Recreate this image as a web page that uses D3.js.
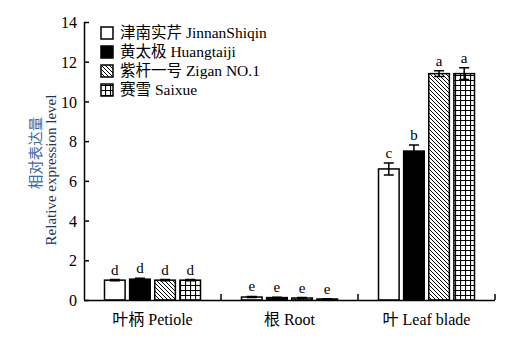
<!DOCTYPE html>
<html><head><meta charset="utf-8">
<script src="https://cdn.jsdelivr.net/npm/d3@7"></script>
<style>body{margin:0;background:#fff} svg text{font-family:"Liberation Serif","Noto Sans CJK SC",serif}</style></head>
<body><svg id="c" width="521" height="343"></svg>
<script>
const categories = ["叶柄 Petiole", "根 Root", "叶 Leaf blade"];
const series = ["津南实芹 JinnanShiqin", "黄太极 Huangtaiji", "紫杆一号 Zigan NO.1", "赛雪 Saixue"];
const values = [[1.0, 0.15, 6.6], [1.05, 0.12, 7.5], [1.0, 0.1, 11.4], [1.0, 0.05, 11.4]];
const errors = [[0.03, 0.03, 0.3], [0.05, 0.02, 0.3], [0.03, 0.02, 0.15], [0.03, 0.01, 0.3]];
const letters = [["d", "e", "c"], ["d", "e", "b"], ["d", "e", "a"], ["d", "e", "a"]];
const yTicks = [0, 2, 4, 6, 8, 10, 12, 14];

const svg = d3.select("#c");
const pL = 84, pR = 495, pT = 22, pB = 300;

const defs = svg.append("defs");
const hp = defs.append("pattern").attr("id", "hatch").attr("patternUnits", "userSpaceOnUse").attr("width", 4).attr("height", 4);
hp.append("rect").attr("width", 4).attr("height", 4).attr("fill", "#fff");
hp.append("path").attr("d", "M-1,-1 L5,5 M-1,3 L1,5 M3,-1 L5,1").attr("stroke", "#000").attr("stroke-width", 1);
const gp = defs.append("pattern").attr("id", "grid").attr("patternUnits", "userSpaceOnUse").attr("width", 5).attr("height", 5);
gp.append("rect").attr("width", 5).attr("height", 5).attr("fill", "#fff");
gp.append("path").attr("d", "M0,0.5 H5 M0.5,0 V5").attr("stroke", "#000").attr("stroke-width", 1.2);
const fills = ["#fff", "#000", "url(#hatch)", "url(#grid)"];

const y = d3.scaleLinear().domain([0, 14]).range([pB, pT]);
const x0 = d3.scaleBand().domain(categories).range([pL, pR]);
const x1 = d3.scaleBand().domain(d3.range(series.length)).range([0, 96]).paddingInner(0.18).paddingOuter(0.0);

series.forEach((s, si) => {
  categories.forEach((c, ci) => {
    const bx = x0(c) + x0.bandwidth() / 2 - 48 + x1(si);
    const v = values[si][ci], e = errors[si][ci];
    const w = x1.bandwidth();
    svg.append("rect").attr("x", bx).attr("y", y(v)).attr("width", w).attr("height", y(0) - y(v))
      .attr("fill", fills[si]).attr("stroke", "#000").attr("stroke-width", 1.5);
    const cx = bx + w / 2;
    svg.append("path").attr("d", `M${cx},${y(v - e)} V${y(v + e)} M${cx - 5},${y(v + e)} H${cx + 5} M${cx - 5},${y(v - e)} H${cx + 5}`)
      .attr("stroke", "#000").attr("stroke-width", 1.5).attr("fill", "none");
    svg.append("text").attr("x", cx).attr("y", y(v + e) - 5).attr("text-anchor", "middle")
      .style("font-size", "15px").text(letters[si][ci]);
  });
});

const ya = svg.append("g").attr("transform", `translate(${pL},0)`)
  .call(d3.axisRight(y).tickValues(yTicks).tickSize(5).tickFormat(d3.format("d")));
ya.attr("font-family", null);
ya.select(".domain").attr("d", `M0.5,${pT} V${pB}`).attr("stroke-width", 1.5);
ya.selectAll(".tick line").attr("stroke-width", 1.5);
ya.selectAll(".tick text").attr("x", -7).attr("dy", "0.35em").attr("text-anchor", "end").style("font-size", "16px").attr("fill", "#000");

const xa = svg.append("g").attr("transform", `translate(0,${pB})`)
  .call(d3.axisBottom(x0).tickSize(0).tickPadding(14));
xa.attr("font-family", null);
xa.select(".domain").attr("d", `M${pL},0.5 H${pR}`).attr("stroke-width", 1.5);
xa.selectAll(".tick text").style("font-size", "16px").attr("fill", "#000");
categories.forEach(c => {
  const xx = x0(c) + x0.bandwidth();
  svg.append("line").attr("x1", xx).attr("x2", xx).attr("y1", pB).attr("y2", pB - 6)
    .attr("stroke", "#000").attr("stroke-width", 1.5);
});

svg.append("text").attr("transform", `translate(41,153) rotate(-90)`).attr("text-anchor", "middle")
  .style("font-size", "14.5px").attr("fill", "#3d6aa8").text("相对表达量");
svg.append("text").attr("transform", `translate(56,170) rotate(-90)`).attr("text-anchor", "middle")
  .style("font-size", "15px").attr("fill", "#1f3558").text("Relative expression level");

series.forEach((s, si) => {
  const ly = 33 + si * 19;
  svg.append("rect").attr("x", 101).attr("y", ly - 6).attr("width", 12).attr("height", 12)
    .attr("fill", fills[si]).attr("stroke", "#000").attr("stroke-width", 1.5);
  svg.append("text").attr("x", 120).attr("y", ly + 5).style("font-size", "15.5px").text(s);
});
</script></body></html>
